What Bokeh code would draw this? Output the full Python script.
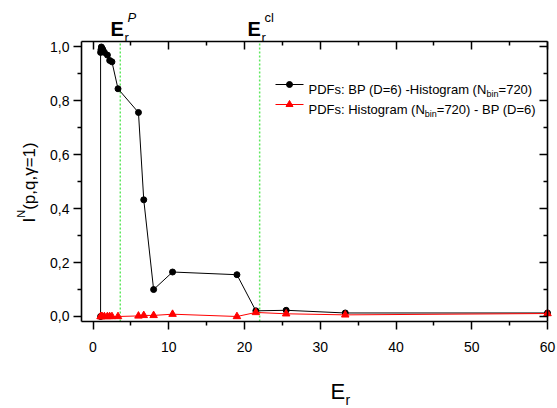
import math
from bokeh.plotting import figure
from bokeh.models import (Range1d, FixedTicker, LinearAxis, Label,
                          CustomJSTickFormatter)
from bokeh.embed import file_html
from bokeh.resources import INLINE

# ---------------- data ----------------
er_black = [1.0, 1.0, 1.05, 1.1, 1.2, 1.3, 1.5, 1.9, 2.2, 2.5, 3.3, 6.0, 6.7,
            8.0, 10.5, 19.0, 21.5, 25.5, 33.3, 60.0]
in_black = [0.0, 0.98, 0.99, 1.0, 0.995, 0.99, 0.98, 0.97, 0.95, 0.945, 0.845,
            0.757, 0.433, 0.10, 0.165, 0.155, 0.021, 0.023, 0.013, 0.013]
er_red = [1.0, 1.05, 1.1, 1.2, 1.5, 1.9, 2.2, 2.5, 3.3, 6.0, 6.7, 8.0, 10.5,
          19.0, 21.5, 25.5, 33.3, 60.0]
in_red = [0.0, 0.0, 0.0, 0.0, 0.0, 0.0, 0.0, 0.0, 0.0, 0.002, 0.004, 0.004,
          0.0085, 0.0, 0.015, 0.010, 0.006, 0.011]
er_marks = [3.6, 22.0]
x_ticks = [0, 10, 20, 30, 40, 50, 60]
x_minor = [5, 15, 25, 35, 45, 55]
y_ticks = [0.0, 0.2, 0.4, 0.6, 0.8, 1.0]
y_minor = [0.1, 0.3, 0.5, 0.7, 0.9]
legend_black = ("PDFs: BP (D=6) -Histogram (N", "bin", "=720)")
legend_red = ("PDFs: Histogram (N", "bin", "=720) - BP (D=6)")

# ---------------- layout ----------------
W, H = 557, 408
L, R, T, B = 81, 547, 41, 321          # axes box in picture pixels
X0, X1 = -1.52, 60.0                    # axes box in data units
Y0, Y1 = -0.0186, 1.0204
KX = (X1 - X0) / (R - L)
KY = (Y1 - Y0) / (B - T)
FONT = "Liberation Sans"


def dx(px):  # picture pixel -> data x
    return X0 + (px - L) * KX


def dy(py):  # picture pixel -> data y
    return Y1 - (py - T) * KY


AW = {' ': .278, ':': .278, '(': .333, ')': .333, '=': .584, '-': .333,
      ',': .278, '.': .278, 'P': .667, 'D': .722, 'F': .611, 'B': .667,
      'H': .722, 'N': .722, 's': .5, 'i': .222, 't': .278, 'o': .556,
      'g': .556, 'r': .333, 'a': .556, 'm': .833, 'b': .556, 'n': .556,
      'p': .556, 'q': .556, 'I': .278}


def tw(s, size):
    return sum(AW.get(c, .556) for c in s) * size


# the frame covers the whole canvas; the axes are fixed at the box edges
p = figure(width=W, height=H, output_backend="svg", toolbar_location=None,
           x_range=Range1d(dx(0), dx(W)), y_range=Range1d(dy(H), dy(0)),
           min_border=0, x_axis_location=None, y_axis_location=None)
p.grid.visible = False
p.outline_line_color = None
p.background_fill_color = "white"
p.border_fill_color = "white"

fmt = CustomJSTickFormatter(code="return tick.toFixed(1).replace('.', ',');")
fmtx = CustomJSTickFormatter(code="return tick.toFixed(0);")


def style(ax, outside, labels):
    ax.axis_line_color = "black"
    ax.axis_line_width = 1.6
    ax.major_tick_line_width = 1.5
    ax.minor_tick_line_width = 1.5
    if outside:
        ax.major_tick_out, ax.major_tick_in = 8, 0
        ax.minor_tick_out, ax.minor_tick_in = 4, 0
    else:
        ax.major_tick_out, ax.major_tick_in = 0, 8
        ax.minor_tick_out, ax.minor_tick_in = 0, 4
    ax.major_label_text_font = FONT
    ax.major_label_text_font_size = "14px"
    ax.major_label_text_color = "black" if labels else None


xt = FixedTicker(ticks=x_ticks, minor_ticks=x_minor)
yt = FixedTicker(ticks=y_ticks, minor_ticks=y_minor)

xb = LinearAxis(ticker=xt, formatter=fmtx, fixed_location=Y0, bounds=(X0, X1))
style(xb, True, True)
xb.major_label_standoff = 12
p.add_layout(xb, "below")
xa = LinearAxis(ticker=xt, fixed_location=Y1, bounds=(X0, X1))
style(xa, False, False)
p.add_layout(xa, "above")
yl = LinearAxis(ticker=yt, formatter=fmt, fixed_location=X0, bounds=(Y0, Y1))
style(yl, True, True)
yl.major_label_standoff = 4
p.add_layout(yl, "left")
yr = LinearAxis(ticker=yt, fixed_location=X1, bounds=(Y0, Y1))
style(yr, False, False)
p.add_layout(yr, "right")

p.segment(x0=er_marks, y0=[Y0] * len(er_marks), x1=er_marks,
          y1=[Y1] * len(er_marks), line_color="#5ee85e", line_width=1.5,
          line_dash="2 2")

p.line(er_black, in_black, line_color="black", line_width=1)
p.scatter(er_black, in_black, marker="circle", size=6, color="black")
p.line(er_red, in_red, line_color="red", line_width=1)
p.scatter(er_red, in_red, marker="triangle", size=7.5, color="red")


def lab(x, y, text, size, style_="normal", angle=0.0):
    p.add_layout(Label(x=x, y=y, text=text, text_font=FONT,
                       text_font_size=f"{size}px", text_font_style=style_,
                       text_baseline="alphabetic", text_align="left",
                       angle=angle, text_color="black"))


# legend (drawn by hand to allow the subscript)
LS = 13
SS = 9
for (parts, col, mk, py) in ((legend_black, "black", "circle", 84),
                             (legend_red, "red", "triangle", 104)):
    p.line([dx(275), dx(303)], [dy(py), dy(py)], line_color=col, line_width=1)
    p.scatter([dx(289)], [dy(py)], marker=mk, size=6 if mk == "circle" else 7,
              color=col)
    x0 = 308
    lab(dx(x0), dy(py + 5), parts[0], LS)
    x0 += tw(parts[0], LS)
    lab(dx(x0), dy(py + 9), parts[1], SS)
    x0 += tw(parts[1], SS)
    lab(dx(x0), dy(py + 5), parts[2], LS)

# E_r^P and E_r^cl labels above the box
for (xl, sup) in ((110, "P"), (247, "cl")):
    lab(dx(xl), dy(28), "E", 20, "bold")
    lab(dx(xl + 14), dy(37), "r", 13)
    lab(dx(xl + 17), dy(17), sup, 13, "italic" if sup == "P" else "normal")

# x axis title
lab(dx(330), dy(391), "E", 22)
lab(dx(345), dy(399), "r", 14)

# y axis title (rotated)
YS = 17
ybase = 29
ystart = 222
lab(dx(ybase), dy(ystart), "I", YS, angle=math.pi / 2)
yy = ystart - tw("I", YS)
lab(dx(ybase - 9), dy(yy), "N", 11, angle=math.pi / 2)
yy -= tw("N", 11)
lab(dx(ybase), dy(yy), "(p,q,\u03b3=1)", YS, angle=math.pi / 2)

open("out.html", "w").write(file_html(p, INLINE))
